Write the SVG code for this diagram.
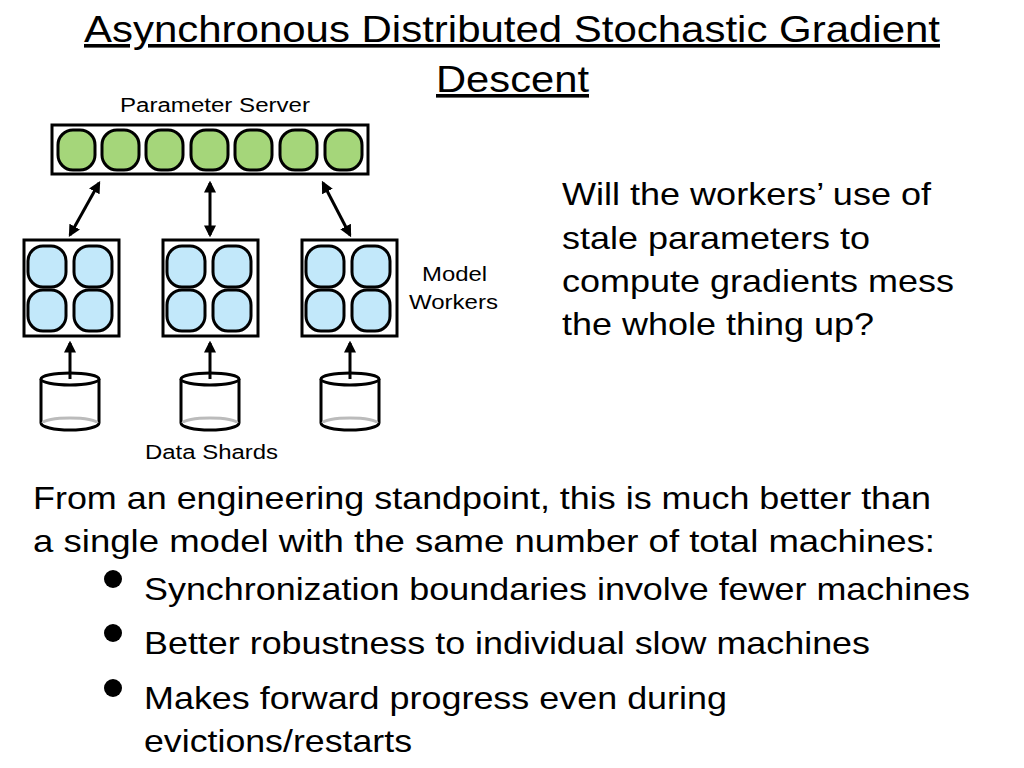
<svg xmlns="http://www.w3.org/2000/svg" width="1024" height="768" viewBox="0 0 1024 768">
<style>
text{font-family:"Liberation Sans",Arial,sans-serif;fill:#000}
.box{fill:#fff;stroke:#000;stroke-width:3}
.g{fill:#a5d67a;stroke:#000;stroke-width:3}
.b{fill:#c2e8fa;stroke:#000;stroke-width:3}
.ar{stroke:#000;stroke-width:3;fill:none}
.cyl{fill:#fff;stroke:#000;stroke-width:3}
</style>
<defs>
<marker id="ah" viewBox="0 0 10 10" refX="8" refY="5" markerWidth="4" markerHeight="4" orient="auto-start-reverse"><path d="M0,0L10,5L0,10z" fill="#000"/></marker>
<g id="cy">
<path class="cyl" d="M-29,0 V44 A29,7 0 0 0 29,44 V0"/>
<path d="M-27,44 A27,5 0 0 1 27,44" fill="none" stroke="#bbb" stroke-width="3"/>
<ellipse class="cyl" cx="0" cy="0" rx="29" ry="6"/>
</g>
<g id="wk">
<rect class="box" x="0" y="0" width="95" height="96"/>
<rect class="b" x="4" y="6" width="38" height="41" rx="15"/>
<rect class="b" x="50" y="6" width="38" height="41" rx="15"/>
<rect class="b" x="4" y="50" width="38" height="41" rx="15"/>
<rect class="b" x="50" y="50" width="38" height="41" rx="15"/>
</g>
</defs>
<text x="84" y="42" font-size="36" textLength="856" lengthAdjust="spacingAndGlyphs" text-decoration="underline">Asynchronous Distributed Stochastic Gradient</text>
<text x="436" y="92" font-size="36" textLength="153" lengthAdjust="spacingAndGlyphs" text-decoration="underline">Descent</text>
<text x="120" y="112" font-size="20" textLength="190" lengthAdjust="spacingAndGlyphs">Parameter Server</text>
<g id="ps">
<rect class="box" x="52" y="125" width="316" height="49"/>
<rect class="g" x="58" y="130" width="37" height="40" rx="15"/>
<rect class="g" x="102" y="130" width="37" height="40" rx="15"/>
<rect class="g" x="146" y="130" width="37" height="40" rx="15"/>
<rect class="g" x="191" y="130" width="37" height="40" rx="15"/>
<rect class="g" x="235" y="130" width="37" height="40" rx="15"/>
<rect class="g" x="280" y="130" width="37" height="40" rx="15"/>
<rect class="g" x="325" y="130" width="37" height="40" rx="15"/>
</g>
<g id="w1"><use href="#wk" x="24" y="240"/></g>
<g id="w2"><use href="#wk" x="163" y="240"/></g>
<g id="w3"><use href="#wk" x="302" y="240"/></g>
<g id="d1"><use href="#cy" x="70" y="379"/></g>
<g id="d2"><use href="#cy" x="210" y="379"/></g>
<g id="d3"><use href="#cy" x="350" y="379"/></g>
<g id="connectors">
<line class="ar" x1="99" y1="183" x2="70" y2="235" marker-start="url(#ah)" marker-end="url(#ah)"/>
<line class="ar" x1="210" y1="183" x2="210" y2="235" marker-start="url(#ah)" marker-end="url(#ah)"/>
<line class="ar" x1="323" y1="183" x2="350" y2="235" marker-start="url(#ah)" marker-end="url(#ah)"/>
<line class="ar" x1="70" y1="379" x2="70" y2="343" marker-end="url(#ah)"/>
<line class="ar" x1="210" y1="379" x2="210" y2="343" marker-end="url(#ah)"/>
<line class="ar" x1="350" y1="379" x2="350" y2="343" marker-end="url(#ah)"/>
</g>
<text x="422" y="281" font-size="20" textLength="65" lengthAdjust="spacingAndGlyphs">Model</text>
<text x="409" y="309" font-size="20" textLength="89" lengthAdjust="spacingAndGlyphs">Workers</text>
<text x="145" y="459" font-size="20" textLength="133" lengthAdjust="spacingAndGlyphs">Data Shards</text>
<g font-size="32" lengthAdjust="spacingAndGlyphs">
<text x="562" y="205" textLength="369" lengthAdjust="spacingAndGlyphs">Will the workers’ use of</text>
<text x="562" y="249" textLength="308" lengthAdjust="spacingAndGlyphs">stale parameters to</text>
<text x="562" y="292" textLength="392" lengthAdjust="spacingAndGlyphs">compute gradients mess</text>
<text x="562" y="335" textLength="312" lengthAdjust="spacingAndGlyphs">the whole thing up?</text>
<text x="33" y="509" textLength="898" lengthAdjust="spacingAndGlyphs">From an engineering standpoint, this is much better than</text>
<text x="33" y="552" textLength="902" lengthAdjust="spacingAndGlyphs">a single model with the same number of total machines:</text>
<text x="144" y="600" textLength="826" lengthAdjust="spacingAndGlyphs">Synchronization boundaries involve fewer machines</text>
<text x="144" y="654" textLength="726" lengthAdjust="spacingAndGlyphs">Better robustness to individual slow machines</text>
<text x="144" y="709" textLength="583" lengthAdjust="spacingAndGlyphs">Makes forward progress even during</text>
<text x="144" y="752" textLength="268" lengthAdjust="spacingAndGlyphs">evictions/restarts</text>
</g>
<circle cx="113" cy="579" r="9"/>
<circle cx="113" cy="633" r="9"/>
<circle cx="113" cy="688" r="9"/>
</svg>
